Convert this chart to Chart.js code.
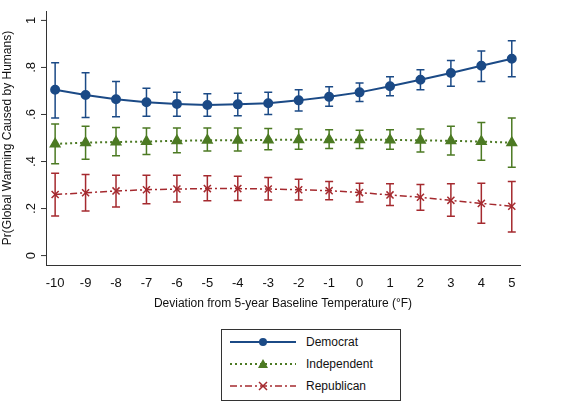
<!DOCTYPE html><html><head><script src="https://cdn.jsdelivr.net/npm/chart.js@4"></script>
<style>body{margin:0;background:#fff;font-family:Arial,"Liberation Sans",sans-serif}
#c{position:absolute;left:0;top:0;width:566px;height:315px}
#leg{position:absolute;left:221px;top:329px;width:178px;height:70px;border:1px solid #333;font-size:12px;color:#111}
.r{position:absolute;left:8px;height:16px;display:flex;align-items:center}
.r svg{margin-right:10px}</style></head><body>
<div id="c"><canvas id="cv"></canvas></div>
<div id="leg">
<div class="r" style="top:4px"><svg width="66" height="12"><line x1="0" y1="6" x2="66" y2="6" stroke="#1b4a86" stroke-width="2"/><circle cx="33" cy="6" r="4" fill="#1b4a86"/></svg>Democrat</div>
<div class="r" style="top:26px"><svg width="66" height="12"><line x1="0" y1="6" x2="66" y2="6" stroke="#4c7a23" stroke-width="2" stroke-dasharray="2,3"/><path d="M33 1 L38 10 L28 10Z" fill="#4c7a23"/></svg>Independent</div>
<div class="r" style="top:48px"><svg width="66" height="12"><line x1="0" y1="6" x2="66" y2="6" stroke="#a52a2f" stroke-width="1.5" stroke-dasharray="7,3,2,3"/><path d="M29 2 L37 10 M37 2 L29 10" stroke="#a52a2f" stroke-width="1.5"/></svg>Republican</div>
</div>
<script>
const xs=[-10,-9,-8,-7,-6,-5,-4,-3,-2,-1,0,1,2,3,4,5];
const dem=[0.705,0.683,0.665,0.652,0.645,0.64,0.643,0.648,0.66,0.675,0.694,0.72,0.748,0.776,0.807,0.837];
const demLo=[0.585,0.587,0.59,0.592,0.593,0.593,0.595,0.6,0.615,0.635,0.655,0.68,0.705,0.72,0.74,0.76];
const demHi=[0.82,0.777,0.74,0.712,0.695,0.688,0.69,0.695,0.705,0.718,0.734,0.76,0.79,0.83,0.87,0.913];
const ind=[0.475,0.48,0.483,0.485,0.488,0.49,0.49,0.492,0.493,0.493,0.493,0.492,0.49,0.488,0.485,0.48];
const indLo=[0.39,0.41,0.425,0.43,0.437,0.445,0.445,0.45,0.452,0.455,0.455,0.452,0.44,0.428,0.405,0.376];
const indHi=[0.56,0.55,0.545,0.542,0.542,0.542,0.542,0.54,0.538,0.535,0.533,0.535,0.538,0.55,0.566,0.585];
const rep=[0.26,0.267,0.275,0.28,0.283,0.285,0.285,0.283,0.28,0.276,0.268,0.258,0.248,0.235,0.222,0.21];
const repLo=[0.168,0.19,0.207,0.22,0.228,0.233,0.234,0.236,0.236,0.237,0.228,0.213,0.193,0.167,0.137,0.1];
const repHi=[0.35,0.345,0.342,0.342,0.342,0.34,0.337,0.332,0.325,0.315,0.308,0.305,0.302,0.305,0.308,0.315];
const yTicks=[0,0.2,0.4,0.6,0.8,1];
const yTickLabels=['0','.2','.4','.6','.8','1'];
const C=['#1b4a86','#4c7a23','#a52a2f'];
const pts=a=>a.map((v,i)=>({x:xs[i],y:v}));
const errs=[[demLo,demHi],[indLo,indHi],[repLo,repHi]];
const ebar={id:'eb',beforeDatasetsDraw(ch){const c=ch.ctx,X=ch.scales.x,Y=ch.scales.y;
errs.forEach((e,k)=>{c.save();c.strokeStyle=C[k];c.lineWidth=1.5;xs.forEach((x,i)=>{const px=X.getPixelForValue(x),a=Y.getPixelForValue(e[0][i]),b=Y.getPixelForValue(e[1][i]);
c.beginPath();c.moveTo(px,a);c.lineTo(px,b);c.moveTo(px-4,a);c.lineTo(px+4,a);c.moveTo(px-4,b);c.lineTo(px+4,b);c.stroke();});c.restore();});},
afterDraw(ch){const c=ch.ctx,Y=ch.scales.y,ca=ch.chartArea;c.save();c.fillStyle='#111';c.font='13px Arial';c.textAlign='center';c.textBaseline='bottom';
yTicks.forEach((t,i)=>{const py=Y.getPixelForValue(t);c.save();c.translate(ca.left-8,py);c.rotate(-Math.PI/2);c.fillText(yTickLabels[i],0,0);c.restore();
c.strokeStyle='#333';c.beginPath();c.moveTo(ca.left-5,py);c.lineTo(ca.left,py);c.stroke();});c.restore();}};
new Chart(document.getElementById('cv'),{type:'line',data:{datasets:[
{label:'Democrat',data:pts(dem),borderColor:C[0],backgroundColor:C[0],borderWidth:2,pointStyle:'circle',pointRadius:4},
{label:'Independent',data:pts(ind),borderColor:C[1],backgroundColor:C[1],borderWidth:2,borderDash:[2,3],pointStyle:'triangle',pointRadius:5},
{label:'Republican',data:pts(rep),borderColor:C[2],backgroundColor:C[2],borderWidth:1.5,borderDash:[7,3,2,3],pointStyle:'crossRot',pointRadius:5,pointBorderWidth:1.5}]},
options:{responsive:true,maintainAspectRatio:false,animation:false,layout:{padding:{left:0,right:46,top:11,bottom:0}},
plugins:{legend:{display:false},tooltip:{enabled:false}},
scales:{x:{type:'linear',min:-10.3,max:5.27,grid:{display:false,drawTicks:true},border:{color:'#333'},
afterBuildTicks(s){s.ticks=xs.map(v=>({value:v}));},
ticks:{color:'#111',font:{size:13,family:'Arial'},padding:3,maxRotation:0},
title:{display:true,text:'Deviation from 5-year Baseline Temperature (°F)',color:'#111',font:{size:12,family:'Arial'},padding:{top:2}}},
y:{min:-0.04,max:1.04,grid:{display:false},border:{color:'#333'},afterFit(s){s.width=46;},
ticks:{display:false},
title:{display:true,text:'Pr(Global Warming Caused by Humans)',color:'#111',font:{size:12,family:'Arial'},padding:0}}}},
plugins:[ebar]});
</script></body></html>
